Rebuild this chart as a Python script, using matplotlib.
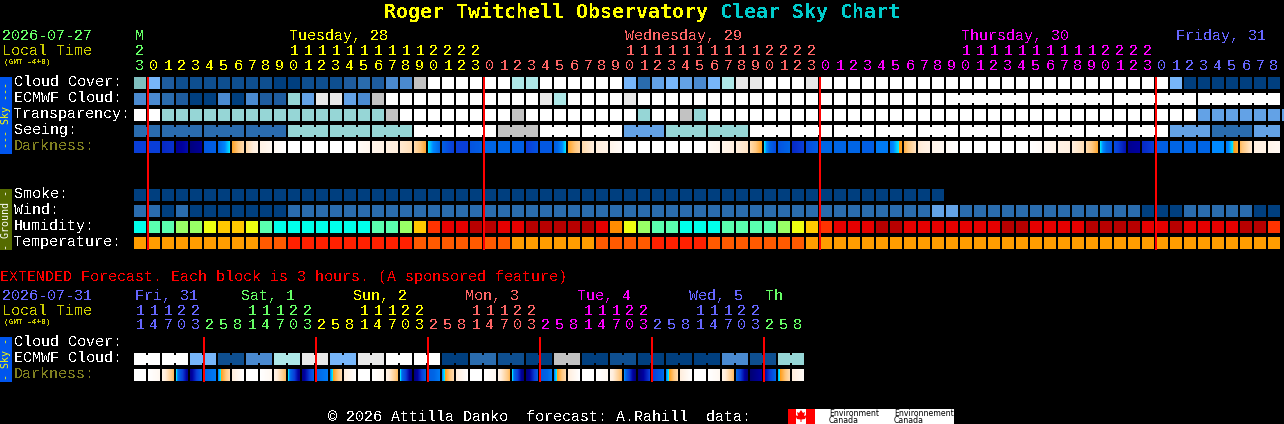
#!/usr/bin/env python3
# Clear Sky Chart, drawn on a pixel sized canvas

import numpy as np
import matplotlib
matplotlib.use("Agg")
import matplotlib.pyplot as plt
from matplotlib.colors import LinearSegmentedColormap

# --- data: level codes per hour block ---
first_hour = 23
cloud_cover = [9, 6, 2, 1, 1, 1, 1, 1, 1, 1, 0, 0, 1, 1, 1, 2, 3, 2, 4, 4, 10,
               12, 12, 12, 12, 12, 12, 8, 8, 12, 12, 12, 12, 12, 12, 6, 3, 5, 6, 5, 4, 6, 8, 11, 11, 12, 12, 12, 11] \
    + [12] * 25 + [6] + [0] * 7
ecmwf_cloud = [4, 4, 3, 2, 0, 0, 4, 0, 4, 2, 2, 7, 5, 11, 11, 5, 4, 10] \
    + [12] * 11 + [11, 8, 12, 12, 12, 12, 11] + [12] * 46
transparency = [12, 12] + [7] * 16 + [10] + [12] * 8 + [10] + [12] * 8 + [7, 12, 12, 10, 7] + [12] * 35 + [5] * 7
seeing = [3] * 11 + [7] * 9 + [12] * 6 + [10] * 3 + [12] * 6 + [5] * 3 + [7] * 6 + [12] * 30 + [5] * 3 + [3] * 3 + [5] * 2
darkness_start = [.30, .30, .25, .12, .05, .40, .45, .57, .72, .85, .93, 1, 1, 1, 1, 1, .95, .88, .82, .78, .72,
                  .535, .42, .30, .38, .45, .45, .42, .30, .40, .42, .57, .72, .80, .88, 1, 1, 1, 1, 1, 1, .95, .88, .80, .72,
                  .535, .38, .25, .35, .45, .45, .45, .42, .48, .48, .60, .78, .88, .95, 1, 1, 1, 1, 1, 1, .92, .85, .80, .72,
                  .535, .35, .10, .25, .42, .45, .45, .45, .50, .48, .62, .82, .88]
darkness_end = [.30, .30, .27, .18, .12, .43, .535, .72, .85, .92, 1, 1, 1, 1, 1, 1, .90, .85, .80, .74, .58,
                .45, .30, .30, .42, .45, .45, .42, .38, .40, .535, .70, .80, .85, .95, 1, 1, 1, 1, 1, 1, .90, .82, .76, .57,
                .35, .45, .30, .42, .45, .45, .45, .42, .48, .56, .75, .85, .92, 1, 1, 1, 1, 1, 1, .95, .88, .82, .74, .58,
                .38, .20, .15, .30, .42, .45, .45, .45, .50, .58, .78, .85, .92]
smoke = [0] * 58
wind = [3, 3, 0, 3] + [0] * 7 + [3] * 46 + [5, 5] + [3] * 13 + [0, 0, 0] + [3] * 5 + [0, 0]
humidity = [0, 1, 1, 2, 2, 3, 4, 4, 3, 1, 0, 0, 0, 0, 0, 0, 0, 1, 1, 2, 4,
            6, 7, 7, 8, 8, 7, 7, 8, 8, 8, 8, 8, 7, 5, 3, 2, 1, 1, 0, 0, 0, 1, 1, 1, 1, 2, 3, 4, 6, 7, 7,
            7, 8, 8, 7, 7, 7, 7, 7, 7, 7, 8, 8, 7, 7, 7, 7, 8, 8, 8, 8, 7, 7, 8, 7, 7, 7, 7, 8, 8, 6]
temperature = [0] * 9 + [1, 1] + [2] * 9 + [1] * 7 + [0] * 6 + [1] * 4 + [2] * 4 + [1] * 7 + [0] * 34

ext_hours = [11, 14, 17, 20, 23] + [2, 5, 8, 11, 14, 17, 20, 23] * 5 + [2, 5, 8]
ext_ecmwf = [12, 12, 6, 1, 4, 8, 11, 6, 11, 12, 12, 0, 3, 1, 0, 10, 0, 1, 0, 0, 0, 4, 1, 7]
ext_darkness_start = [1, 1, .85, .535, .10, .45, .50, .80,
                      1, 1, .85, .535, .08, .45, .50, .80,
                      1, 1, .85, .535, .05, .42, .50, .80,
                      1, 1, .85, .535, .04, .40, .50, .80,
                      1, 1, .85, .50, .03, .30, .50, .80,
                      1, 1, .85, .45, .02, .15, .52, .80]
ext_darkness_end = [1, .92, .62, .12, .45, .48, .72, 1,
                    1, .92, .62, .10, .42, .48, .72, 1,
                    1, .92, .62, .06, .42, .48, .72, 1,
                    1, .92, .62, .05, .40, .48, .72, 1,
                    1, .92, .62, .04, .30, .46, .72, 1,
                    1, .92, .62, .05, .15, .45, .72, .95]

main_days = [(135, "M", 0), (289, "Tuesday, 28", 1), (625, "Wednesday, 29", 2),
             (961, "Thursday, 30", 3), (1176, "Friday, 31", 4)]
ext_days = [(135, "Fri, 31", 4), (241, "Sat, 1", 0), (353, "Sun, 2", 1), (465, "Mon, 3", 2),
            (577, "Tue, 4", 3), (689, "Wed, 5", 4), (765, "Th", 0)]

# --- palettes ---
cloud_colors = ["#003f7f", "#0e4f90", "#1e5c9e", "#2a6cae", "#4a8ad0", "#63a2e6", "#77b6fa",
                "#96d6d6", "#aee8e8", "#7fbfbf", "#c2c2c2", "#e8e8e8", "#ffffff"]
humid_colors = ["#00ffea", "#5affaf", "#99ff66", "#eeff11", "#ffc800", "#ff8c00", "#ff3300", "#e60000", "#b80000"]
temp_colors = ["#ff9d00", "#ff5a00", "#ff2000"]
day_colors = ["#66ff66", "#ffff00", "#ff6666", "#ff00ff", "#6666ff"]
dark_cmap = LinearSegmentedColormap.from_list("dark", [
    (0.0, "#00006e"), (0.15, "#0000a0"), (0.30, "#0a3ed8"), (0.45, "#0066e6"), (0.50, "#0088ff"),
    (0.54, "#00eeff"), (0.545, "#ff9a10"), (0.65, "#ffc880"), (0.80, "#ffeedd"), (1.0, "#ffffff")], N=1024)

CELL = 12
STEP = 14
LEFT = 134
MONO = "Liberation Mono"

fig = plt.figure(figsize=(12.84, 4.24), dpi=100, facecolor="black")
ax = fig.add_axes([0, 0, 1, 1])
ax.set_xlim(0, 1284)
ax.set_ylim(424, 0)
ax.set_autoscale_on(False)
ax.axis("off")


def label(x, y, s, color="white", size=10.8, font=MONO, aa=False, **kw):
    kw.setdefault("va", "baseline")
    return ax.text(x, y, s, color=color, fontsize=size, family=font, antialiased=aa, **kw)


def box(x, y, w, h, color, z=2):
    ax.bar(x, h, w, bottom=y, align="edge", color=color, linewidth=0, antialiased=False, zorder=z)


def row(top, values, palette, groups=None):
    # groups: list of index ranges whose cells are joined by a notch
    for i, v in enumerate(values):
        box(LEFT + STEP * i, top, CELL, CELL, palette[v])
    for first, last in groups or []:
        for i in range(first, min(last, len(values) - 1)):
            box(LEFT + STEP * i + CELL, top + 2, STEP - CELL, CELL - 4, palette[values[i]])


def dark_row(top, start, end):
    for i, (a, b) in enumerate(zip(start, end)):
        x = LEFT + STEP * i
        # one cell: gradient from its left level to its right level
        ax.imshow(np.linspace(a, b, CELL)[None, :], extent=(x, x + CELL, top + CELL, top), aspect="auto",
                  cmap=dark_cmap, vmin=0, vmax=1, interpolation="nearest", zorder=2)


def side_bar(top, bottom, text, bg, fg):
    box(0, top, 12, bottom - top, bg)
    label(6, (top + bottom) / 2, text, color=fg, size=7.2, font="DejaVu Sans Mono", aa=True,
          rotation=90, ha="center", va="center")


# title
label(384, 18, "Roger Twitchell Observatory", color="#ffff00", size=14.4, font="DejaVu Sans Mono", fontweight="bold")
label(720, 18, "Clear Sky Chart", color="#00cccc", size=14.4, font="DejaVu Sans Mono", fontweight="bold")

# main header
label(2, 40, "2026-07-27", color=day_colors[0])
label(2, 55, "Local Time", color="#cccc00")
label(4, 64, "(GMT -4+0)", color="#cccc00", size=5.6, fontweight="bold")
for x, s, c in main_days:
    label(x, 40, s, color=day_colors[c])
for i in range(len(cloud_cover)):
    hour = (first_hour + i) % 24
    day = 0 if i == 0 else (i - 1) // 24 + 1
    cx = LEFT + STEP * i + CELL / 2
    if hour >= 10:
        label(cx, 55, str(hour // 10), color=day_colors[day], ha="center")
    label(cx, 70, str(hour % 10), color=day_colors[day], ha="center")

# main rows
for y, s, c in [(86, "Cloud Cover:", "white"), (102, "ECMWF Cloud:", "white"), (118, "Transparency:", "white"),
                (134, "Seeing:", "white"), (150, "Darkness:", "#808020"), (198, "Smoke:", "white"),
                (214, "Wind:", "white"), (230, "Humidity:", "white"), (246, "Temperature:", "white")]:
    label(14, y, s, color=c)
side_bar(77, 154, "--- Sky ---", "#0055ee", "#ffff00")
side_bar(189, 250, "- Ground -", "#556b00", "white")

row(77, cloud_cover, cloud_colors)
row(93, ecmwf_cloud, cloud_colors, [(58, 63), (64, 69), (70, 75), (76, 81)])
row(109, transparency, cloud_colors)
row(125, seeing, cloud_colors, [(0, 1)] + [(s, s + 2) for s in range(2, 82, 3)])
dark_row(141, darkness_start, darkness_end)
row(189, smoke, cloud_colors)
row(205, wind, cloud_colors)
row(221, humidity, humid_colors)
row(237, temperature, temp_colors)
for i in range(1, len(cloud_cover), 24):
    box(LEFT + STEP * i - 1, 77, 2, 173, "#ff0000", z=4)

# extended forecast
label(0, 281, "EXTENDED Forecast. Each block is 3 hours. (A sponsored feature)", color="#ff0000")
label(2, 300, "2026-07-31", color=day_colors[4])
label(2, 315, "Local Time", color="#cccc00")
label(4, 324, "(GMT -4+0)", color="#cccc00", size=5.6, fontweight="bold")
for x, s, c in ext_days:
    label(x, 300, s, color=day_colors[c])
for i, hour in enumerate(ext_hours):
    day = [4, 0, 1, 2, 3, 4, 0][(i + 3) // 8]
    cx = LEFT + STEP * i + CELL / 2
    if hour >= 10:
        label(cx, 315, str(hour // 10), color=day_colors[day], ha="center")
    label(cx, 329, str(hour % 10), color=day_colors[day], ha="center")
for y, s, c in [(346, "Cloud Cover:", "white"), (362, "ECMWF Cloud:", "white"), (378, "Darkness:", "#808020")]:
    label(14, y, s, color=c)
side_bar(337, 382, "- Sky -", "#0055ee", "#ffff00")

cells = [v for v in ext_ecmwf for _ in (0, 1)]
row(353, cells, cloud_colors, [(s, s + 1) for s in range(0, 48, 2)])
dark_row(369, ext_darkness_start, ext_darkness_end)
for i in range(5, len(ext_hours), 8):
    box(LEFT + STEP * i - 1, 337, 2, 45, "#ff0000", z=4)

# footer
label(328, 421, "\u00a9 2026 Attilla Danko  forecast: A.Rahill  data:")
box(788, 409, 166, 15, "white")
box(788, 409, 8, 15, "#ff0000", z=3)
box(806, 409, 9, 15, "#ff0000", z=3)
ax.fill([801, 803, 805, 804, 807, 805, 801.5, 801.5, 800.5, 800.5, 797, 795, 798, 797, 799],
        [410, 413, 412, 416, 415, 419, 419.5, 422, 422, 419.5, 419, 415, 416, 412, 413],
        color="#ff0000", linewidth=0, zorder=4)
for x, s in [(829, "Environment"), (894, "Environnement")]:
    ax.text(x, 416, s, color="black", fontsize=5.6, family="DejaVu Sans", zorder=5)
    ax.text(x, 423, "Canada", color="black", fontsize=5.6, family="DejaVu Sans", zorder=5)

fig.savefig("out.png", dpi=100, facecolor="black")
